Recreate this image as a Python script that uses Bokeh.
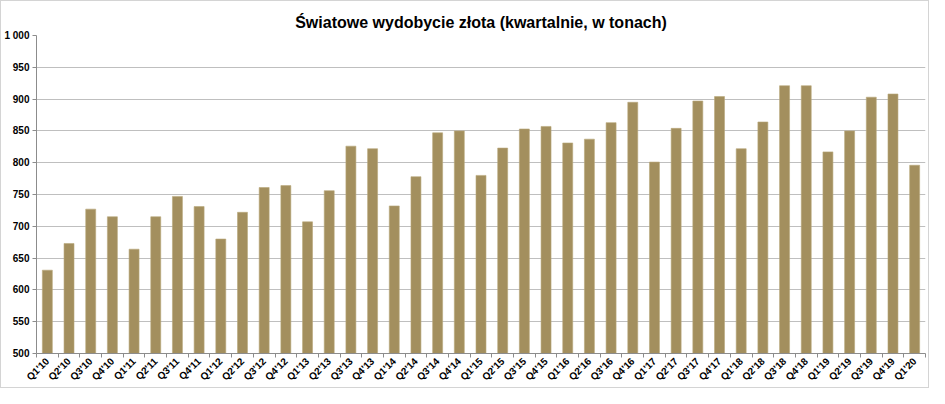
import math
from bokeh.plotting import figure
from bokeh.models import FixedTicker, Range1d, Title
from bokeh.embed import file_html
from bokeh.resources import INLINE

quarters = ["Q1'10", "Q2'10", "Q3'10", "Q4'10", "Q1'11", "Q2'11", "Q3'11", "Q4'11",
            "Q1'12", "Q2'12", "Q3'12", "Q4'12", "Q1'13", "Q2'13", "Q3'13", "Q4'13",
            "Q1'14", "Q2'14", "Q3'14", "Q4'14", "Q1'15", "Q2'15", "Q3'15", "Q4'15",
            "Q1'16", "Q2'16", "Q3'16", "Q4'16", "Q1'17", "Q2'17", "Q3'17", "Q4'17",
            "Q1'18", "Q2'18", "Q3'18", "Q4'18", "Q1'19", "Q2'19", "Q3'19", "Q4'19",
            "Q1'20"]
tonnes = [631, 673, 727, 715, 664, 715, 747, 731,
          680, 722, 761, 764, 707, 756, 826, 822,
          732, 778, 847, 850, 780, 823, 853, 857,
          831, 837, 863, 895, 801, 854, 897, 904,
          822, 864, 921, 921, 817, 850, 903, 908,
          796]
y_ticks = [500, 550, 600, 650, 700, 750, 800, 850, 900, 950, 1000]
title_text = "Światowe wydobycie złota (kwartalnie, w tonach)"

FONT = "Liberation Sans"
BAR = "#A38F5E"
GRID = "#BFBFBF"

n = len(quarters)
xs = list(range(n))

p = figure(width=929, height=388, output_backend="svg", toolbar_location=None,
           x_range=Range1d(-0.5, n - 0.5), y_range=Range1d(500, 1000),
           min_border_left=34, min_border_right=5, min_border_top=34, min_border_bottom=35)
p.title = Title(text=title_text, align="center", text_font=FONT, text_font_size="16px",
                text_font_style="bold", text_color="#000000", standoff=10)
p.outline_line_color = None
p.background_fill_color = "white"
p.border_fill_color = "white"
p.styles = {"border": "1px solid #D4D4D4", "box-sizing": "border-box"}

p.vbar(x=xs, top=tonnes, bottom=500, width=0.46, fill_color=BAR,
       line_color="#B8A77A", line_width=0.6)

# x axis
p.xaxis.ticker = FixedTicker(ticks=xs, minor_ticks=[i - 0.5 for i in range(n + 1)])
p.xaxis.major_label_overrides = {i: q for i, q in enumerate(quarters)}
p.xaxis.major_label_orientation = math.pi / 4
p.xaxis.major_tick_in = 0
p.xaxis.major_tick_out = 0
p.xaxis.minor_tick_in = 0
p.xaxis.minor_tick_out = 4
p.xaxis.minor_tick_line_color = "#8C8C8C"
p.xaxis.axis_line_color = "#8C8C8C"
p.xaxis.major_label_text_font = FONT
p.xaxis.major_label_text_font_size = "10px"
p.xaxis.major_label_text_font_style = "bold"
p.xaxis.major_label_text_color = "#000000"
p.xaxis.major_label_standoff = 2
p.xgrid.grid_line_color = None

# y axis
p.yaxis.ticker = FixedTicker(ticks=y_ticks)
p.yaxis.major_label_overrides = {1000: "1 000"}
p.yaxis.major_tick_in = 0
p.yaxis.major_tick_out = 4
p.yaxis.minor_tick_line_color = None
p.yaxis.major_tick_line_color = "#8C8C8C"
p.yaxis.axis_line_color = "#8C8C8C"
p.yaxis.major_label_text_font = FONT
p.yaxis.major_label_text_font_size = "10px"
p.yaxis.major_label_text_font_style = "bold"
p.yaxis.major_label_text_color = "#000000"
p.yaxis.major_label_standoff = 3
p.ygrid.ticker = FixedTicker(ticks=y_ticks)
p.ygrid.grid_line_color = GRID
p.ygrid.grid_line_width = 1

open("out.html", "w").write(file_html(p, INLINE))
